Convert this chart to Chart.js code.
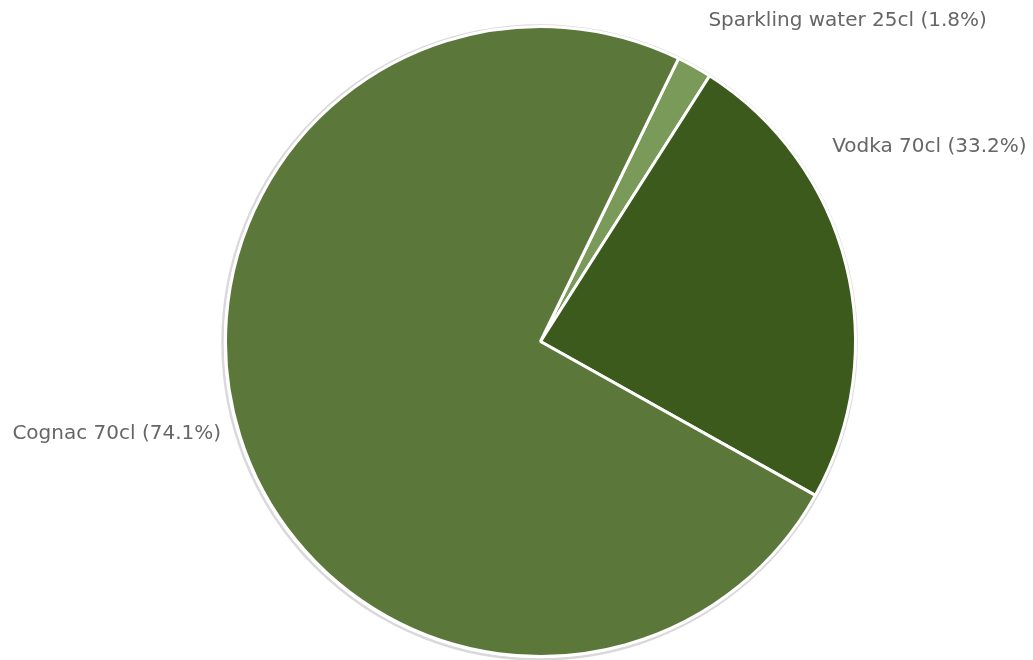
<!DOCTYPE html>
<html>
<head>
<meta charset="utf-8">
<script src="https://cdn.jsdelivr.net/npm/chart.js@4.4.1/dist/chart.umd.min.js"></script>
<style>
  html, body { margin: 0; padding: 0; background: #fff; }
  #wrap { width: 1033px; height: 660px; }
</style>
</head>
<body>
<div id="wrap"><canvas id="pie-chart"></canvas></div>
<script>
const products = ["Sparkling water 25cl", "Vodka 70cl", "Cognac 70cl"];
const shares = [1.8, 24.1, 74.1];
const shownPercent = ["1.8%", "33.2%", "74.1%"];
const sliceColors = ['#7a9a5a', '#3c5a1c', '#5b773a'];

// where each label sits, relative to the pie centre, in radius units
const labelSpots = [[0.533, -1.019, 'left'], [0.926, -0.617, 'left'], [-1.014, 0.294, 'right']];

const outsideLabels = {
    id: 'outsideLabels',
    beforeDatasetsDraw(chart) {
        const arc = chart.getDatasetMeta(0).data[0];
        const ctx = chart.ctx;
        ctx.save();
        ctx.beginPath();
        ctx.arc(arc.x - 1, arc.y + 1, arc.outerRadius + 2, 0, Math.PI * 2);
        ctx.strokeStyle = 'rgba(0,0,0,0.15)';
        ctx.lineWidth = 2.5;
        ctx.stroke();
        ctx.restore();
    },
    afterDatasetsDraw(chart) {
        const meta = chart.getDatasetMeta(0);
        const ctx = chart.ctx;
        ctx.save();
        ctx.font = '20px "DejaVu Sans"';
        ctx.fillStyle = '#666';
        ctx.textBaseline = 'middle';
        meta.data.forEach((arc, i) => {
            const r = arc.outerRadius;
            const spot = labelSpots[i];
            ctx.textAlign = spot[2];
            ctx.fillText(products[i] + ' (' + shownPercent[i] + ')', arc.x + spot[0] * r, arc.y + spot[1] * r);
        });
        ctx.restore();
    }
};

new Chart(document.getElementById("pie-chart").getContext("2d"), {
    type: 'pie',
    data: {
        labels: products,
        datasets: [{
            data: shares,
            backgroundColor: sliceColors,
            borderColor: '#fff',
            borderWidth: 3
        }]
    },
    options: {
        responsive: true,
        maintainAspectRatio: false,
        animation: false,
        rotation: 26,
        layout: {
            padding: { top: 25, bottom: 2, left: 100, right: 52 }
        },
        plugins: {
            legend: { display: false },
            tooltip: { enabled: false }
        }
    },
    plugins: [outsideLabels]
});
</script>
</body>
</html>
